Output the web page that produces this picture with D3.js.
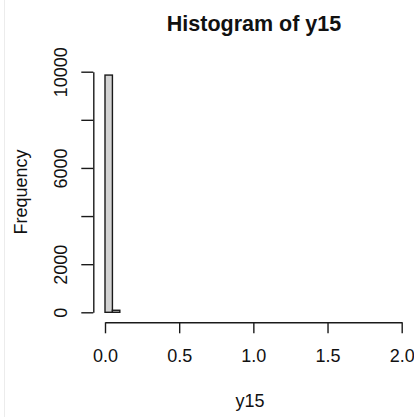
<!DOCTYPE html>
<html>
<head>
<meta charset="utf-8">
<script src="https://cdn.jsdelivr.net/npm/d3@7"></script>
<style>
  html, body { margin: 0; padding: 0; background: #fff; }
  svg { display: block; font-family: "Liberation Sans", Arial, sans-serif; }
</style>
</head>
<body>
<svg id="chart" width="414" height="417"></svg>
<script>
// ---- data ----
const binWidth = 0.05;
const binStarts = d3.range(0, 44).map(i => +(i * binWidth).toFixed(2)); // 0 .. 2.15
const counts = [9860, 85].concat(new Array(42).fill(0));
const xTicks = [0, 0.5, 1.0, 1.5, 2.0];
const yTicks = [0, 2000, 4000, 6000, 8000, 10000];
const yTickLabels = ["0", "2000", "", "6000", "", "10000"];
const title = "Histogram of y15";
const xLabel = "y15";
const yLabel = "Frequency";

const svg = d3.select("#chart");

// faint window edge
svg.append("line").attr("x1", 4.5).attr("x2", 4.5).attr("y1", 0).attr("y2", 417)
  .attr("stroke", "#ececec").attr("stroke-width", 1);

const x = d3.scaleLinear().domain([0, 2]).range([105, 401.7]);
const y = d3.scaleLinear().domain([0, 10000]).range([312.3, 71.7]);

const bins = binStarts.map((s, i) => ({ x0: s, x1: s + binWidth, n: counts[i] }));

svg.append("g").selectAll("rect").data(bins).join("rect")
  .attr("x", d => x(d.x0))
  .attr("width", d => x(d.x1) - x(d.x0))
  .attr("y", d => y(d.n))
  .attr("height", d => y(0) - y(d.n))
  .attr("fill", "#d3d3d3")
  .attr("stroke", "#1a1a1a")
  .attr("stroke-width", 1.4);

// x axis
const gx = svg.append("g").attr("transform", "translate(0,322.3)")
  .call(d3.axisBottom(x).tickValues(xTicks).tickFormat(d3.format(".1f"))
    .tickSize(11).tickSizeOuter(0).tickPadding(15.6));
gx.selectAll("path, line").attr("stroke", "#1a1a1a").attr("stroke-width", 1.4);
gx.selectAll("text").attr("font-size", 18).attr("fill", "#111")
  .attr("font-family", "Liberation Sans, Arial, sans-serif");

// y axis
const gy = svg.append("g").attr("transform", "translate(93.3,0)")
  .call(d3.axisLeft(y).tickValues(yTicks)
    .tickFormat((d, i) => yTickLabels[i]).tickSize(12).tickSizeOuter(0));
gy.selectAll("path, line").attr("stroke", "#1a1a1a").attr("stroke-width", 1.4);
gy.selectAll("text")
  .attr("font-size", 18).attr("fill", "#111")
  .attr("font-family", "Liberation Sans, Arial, sans-serif")
  .attr("text-anchor", "middle")
  .attr("transform", "rotate(-90)")
  .attr("x", 0).attr("y", -26.3).attr("dy", null);

// title
svg.append("text").attr("x", 254).attr("y", 30.5)
  .attr("text-anchor", "middle").attr("font-size", 21.5).attr("font-weight", "bold")
  .attr("fill", "#111").text(title);

// x label
svg.append("text").attr("x", 250).attr("y", 406.5)
  .attr("text-anchor", "middle").attr("font-size", 18).attr("fill", "#111").text(xLabel);

// y label
svg.append("text").attr("transform", "translate(26.7,192) rotate(-90)")
  .attr("text-anchor", "middle").attr("font-size", 18).attr("fill", "#111").text(yLabel);
</script>
</body>
</html>
